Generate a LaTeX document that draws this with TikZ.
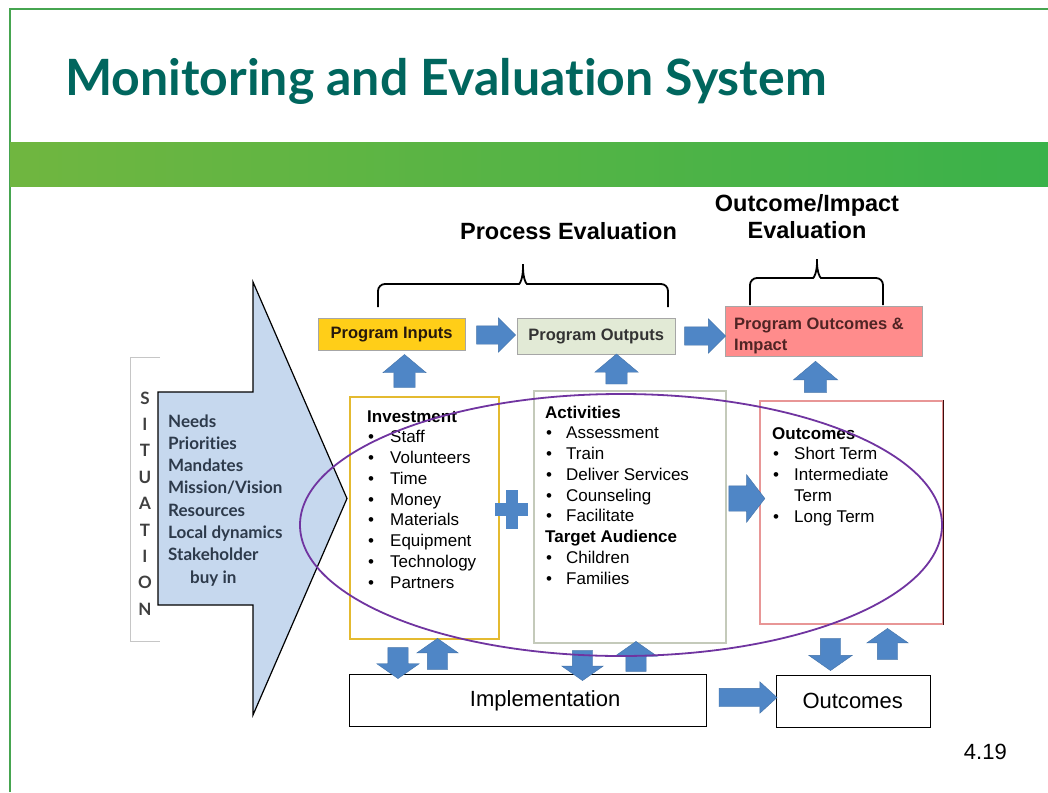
\documentclass[tikz,border=0pt]{standalone}
\usepackage{fontspec}
\setmainfont{Liberation Sans}
\newfontfamily\gillfont{Lato}[Ligatures=NoCommon]
\usepackage{xcolor}
\usetikzlibrary{shapes.arrows,shapes.geometric,shadows}

\definecolor{titleteal}{RGB}{0,102,94}
\definecolor{framegreen}{RGB}{70,165,80}
\definecolor{bandleft}{RGB}{112,182,64}
\definecolor{bandright}{RGB}{58,178,74}
\definecolor{arrowblue}{RGB}{79,134,198}
\definecolor{sitblue}{RGB}{198,216,238}
\definecolor{sittext}{RGB}{45,58,75}
\definecolor{inputgold}{RGB}{255,206,24}
\definecolor{outputgreen}{RGB}{226,234,214}
\definecolor{impactpink}{RGB}{255,140,140}
\definecolor{loopviolet}{RGB}{112,52,160}
\definecolor{investgold}{RGB}{228,186,48}
\definecolor{actgray}{RGB}{196,202,186}
\definecolor{outcpink}{RGB}{232,150,150}
\definecolor{outcdark}{RGB}{60,12,12}

\newcommand{\itm}[2][23pt]{\makebox[#1][l]{\hspace{1pt}\textbullet}#2}

\tikzset{
  blockarr/.style n args={3}{single arrow, fill=arrowblue, draw=arrowblue!85!black,
    line width=0.4pt, inner xsep=0pt, inner ysep=#2, outer sep=0pt,
    minimum height=#1, single arrow head extend=#3},
  progbox/.style={anchor=north west, draw=gray!70, inner sep=0pt,
    font=\fontsize{16.5}{21}\selectfont\bfseries},
  listbox/.style={anchor=north west, fill=white, line width=1.6pt, inner sep=0pt,
    drop shadow={opacity=0.25, shadow xshift=1.5pt, shadow yshift=-1.5pt}},
  listtext/.style={anchor=base west, inner sep=0pt},
  plainbox/.style={anchor=north west, draw=black, line width=1.3pt, fill=white,
    inner sep=0pt, font=\fontsize{22}{26}\selectfont},
  evalhead/.style={inner sep=0pt, font=\fontsize{23.5}{27.5}\selectfont\bfseries},
  sitletter/.style={inner sep=0pt, text=black!75,
    font=\gillfont\fontsize{17}{17}\selectfont\bfseries},
  bracestyle/.style={line width=1.8pt, rounded corners=7pt}
}

\begin{document}
\begin{tikzpicture}[x=1pt, y=-1pt]
\useasboundingbox (0,0) rectangle (1048,792);
\fill[white] (0,0) rectangle (1048,792);

\draw[framegreen, line width=2pt] (10,792) -- (10,9) -- (1048,9);
\shade[left color=bandleft, right color=bandright] (10,142) rectangle (1048,186);

\node[anchor=base west, inner sep=0pt, text=titleteal,
      font=\gillfont\fontsize{50}{52}\selectfont\bfseries] (title) at (65,95)
  {Monitoring and Evaluation System};

\node[evalhead, anchor=base] (proceval) at (568.5,239) {Process Evaluation};
\node[evalhead, anchor=base] (impacteval) at (807,211)
  {\fontsize{23.5}{27.5}\selectfont\begin{tabular}[t]{@{}c@{}}Outcome/Impact\\Evaluation\end{tabular}};

\draw[bracestyle] (378,307) -- (378,284) -- (512,284)
  .. controls (520,284) and (523,278) .. (523,260)
  .. controls (523,278) and (526,284) .. (534,284) -- (668,284) -- (668,307);
\draw[bracestyle] (750,305) -- (750,278) -- (806,278)
  .. controls (814,278) and (817,272) .. (817,255)
  .. controls (817,272) and (820,278) .. (828,278) -- (883,278) -- (883,305);

\node[progbox, fill=inputgold, text=black!80!brown, minimum width=147pt, minimum height=32pt]
  (inputs) at (318,318) {Program Inputs};
\node[progbox, fill=outputgreen, text=black!80, minimum width=158pt, minimum height=36pt]
  (outputs) at (517,318) {Program Outputs};
\node[progbox, fill=impactpink, minimum width=197pt, minimum height=50pt] (impact) at (725,306) {};
\node[listtext, text=outcdark!90, font=\fontsize{16.5}{21}\selectfont\bfseries] (impacttext) at (734,329)
  {\begin{tabular}[t]{@{}l@{}}Program Outcomes \&\\Impact\end{tabular}};

\node[blockarr={39pt}{9pt}{8pt}, single arrow tip angle=90] (r1) at (491.5,335) {};
\node[blockarr={41pt}{9pt}{8pt}, single arrow tip angle=90] (r2) at (700.5,336) {};

\node[blockarr={33pt}{10.5pt}{11pt}, rotate=90, single arrow tip angle=100] (u1) at (404.5,375.5) {};
\node[blockarr={30pt}{10.5pt}{11pt}, rotate=90, single arrow tip angle=100] (u2) at (616.5,373.5) {};
\node[blockarr={31pt}{11pt}{11pt}, rotate=90, single arrow tip angle=100] (u3) at (815.5,381.5) {};

\draw[draw=gray!45, fill=white] (160,357) -- (130,357) -- (130,641) -- (160,641);
\foreach \ch [count=\i from 0] in {S,I,T,U,A,T,I,O,N}
  \node[sitletter] (sit\i) at (145,398+26.4*\i) {\ch};

\draw[fill=sitblue, line width=1.2pt] (158,392) -- (253,392) -- (253,282) -- (347,498.5)
  -- (253,715) -- (253,605) -- (158,605) -- cycle;
\node[listtext, text=sittext] (needs) at (168,427)
  {\gillfont\bfseries\fontsize{17}{22.3}\selectfont\begin{tabular}[t]{@{}l@{}}
  Needs\\ Priorities\\ Mandates\\ Mission/Vision\\ Resources\\ Local dynamics\\
  Stakeholder\\ \hspace*{22pt}buy in\end{tabular}};

\node[listbox, draw=investgold, minimum width=149pt, minimum height=242pt] (invest) at (349,396) {};
\node[listbox, draw=actgray, minimum width=192pt, minimum height=252pt] (activ) at (533,390) {};
\node[listbox, draw=outcpink, minimum width=183pt, minimum height=223pt] (outc) at (759,400) {};
\draw[outcdark, line width=1.6pt] (outc.north east) -- (outc.south east);

\node[listtext] (investlist) at (367,422)
  {\fontsize{17}{20.75}\selectfont\begin{tabular}[t]{@{}l@{}}
  \textbf{Investment}\\ \itm{Staff}\\ \itm{Volunteers}\\ \itm{Time}\\ \itm{Money}\\
  \itm{Materials}\\ \itm{Equipment}\\ \itm{Technology}\\ \itm{Partners}\end{tabular}};
\node[listtext] (activlist) at (545,418)
  {\fontsize{17}{20.75}\selectfont\begin{tabular}[t]{@{}l@{}}
  \textbf{Activities}\\ \itm[21pt]{Assessment}\\ \itm[21pt]{Train}\\
  \itm[21pt]{Deliver Services}\\ \itm[21pt]{Counseling}\\ \itm[21pt]{Facilitate}\\
  \textbf{Target Audience}\\ \itm[21pt]{Children}\\ \itm[21pt]{Families}\end{tabular}};
\node[listtext] (outclist) at (772,439)
  {\fontsize{17}{20.75}\selectfont\begin{tabular}[t]{@{}l@{}}
  \textbf{Outcomes}\\ \itm[22pt]{Short Term}\\ \itm[22pt]{Intermediate}\\
  \hspace*{22pt}Term\\ \itm[22pt]{Long Term}\end{tabular}};

\fill[arrowblue] (495,503) rectangle (528,516);
\fill[arrowblue] (505.5,490) rectangle (518,529);

\node[blockarr={36pt}{12.5pt}{11pt}, single arrow tip angle=105] (r3) at (742,498.5) {};

\node[plainbox, minimum width=357pt, minimum height=52pt] (impl) at (349,674)
  {\hspace*{34pt}Implementation};
\node[plainbox, minimum width=154pt, minimum height=52pt] (outcomes) at (776,675)
  {\raisebox{2pt}{Outcomes}\hspace*{2pt}};

\node[blockarr={31pt}{10pt}{11pt}, rotate=-90, single arrow tip angle=110] (d1) at (398,659.5) {};
\node[blockarr={31pt}{10pt}{10.5pt}, rotate=90, single arrow tip angle=110] (b1) at (437.5,657.5) {};
\node[blockarr={30pt}{10pt}{10.5pt}, rotate=-90, single arrow tip angle=110] (d2) at (582.5,662) {};
\node[blockarr={30pt}{10pt}{11pt}, rotate=90, single arrow tip angle=110] (b2) at (636,660) {};
\node[blockarr={32pt}{10pt}{11.5pt}, rotate=-90, single arrow tip angle=110] (d3) at (830.5,651) {};
\node[blockarr={31pt}{10pt}{10.5pt}, rotate=90, single arrow tip angle=110] (b3) at (887.5,647.5) {};
\node[blockarr={58pt}{9pt}{6.5pt}, single arrow tip angle=85] (r4) at (743,697.5) {};

\node[draw=loopviolet, line width=1.8pt, ellipse, inner sep=0pt,
      minimum width=642pt, minimum height=262pt] (loop) at (621,525) {};

\node[anchor=base east, inner sep=0pt, font=\fontsize{22}{26}\selectfont] (pagenum) at (1007,759) {4.19};
\end{tikzpicture}
\end{document}
